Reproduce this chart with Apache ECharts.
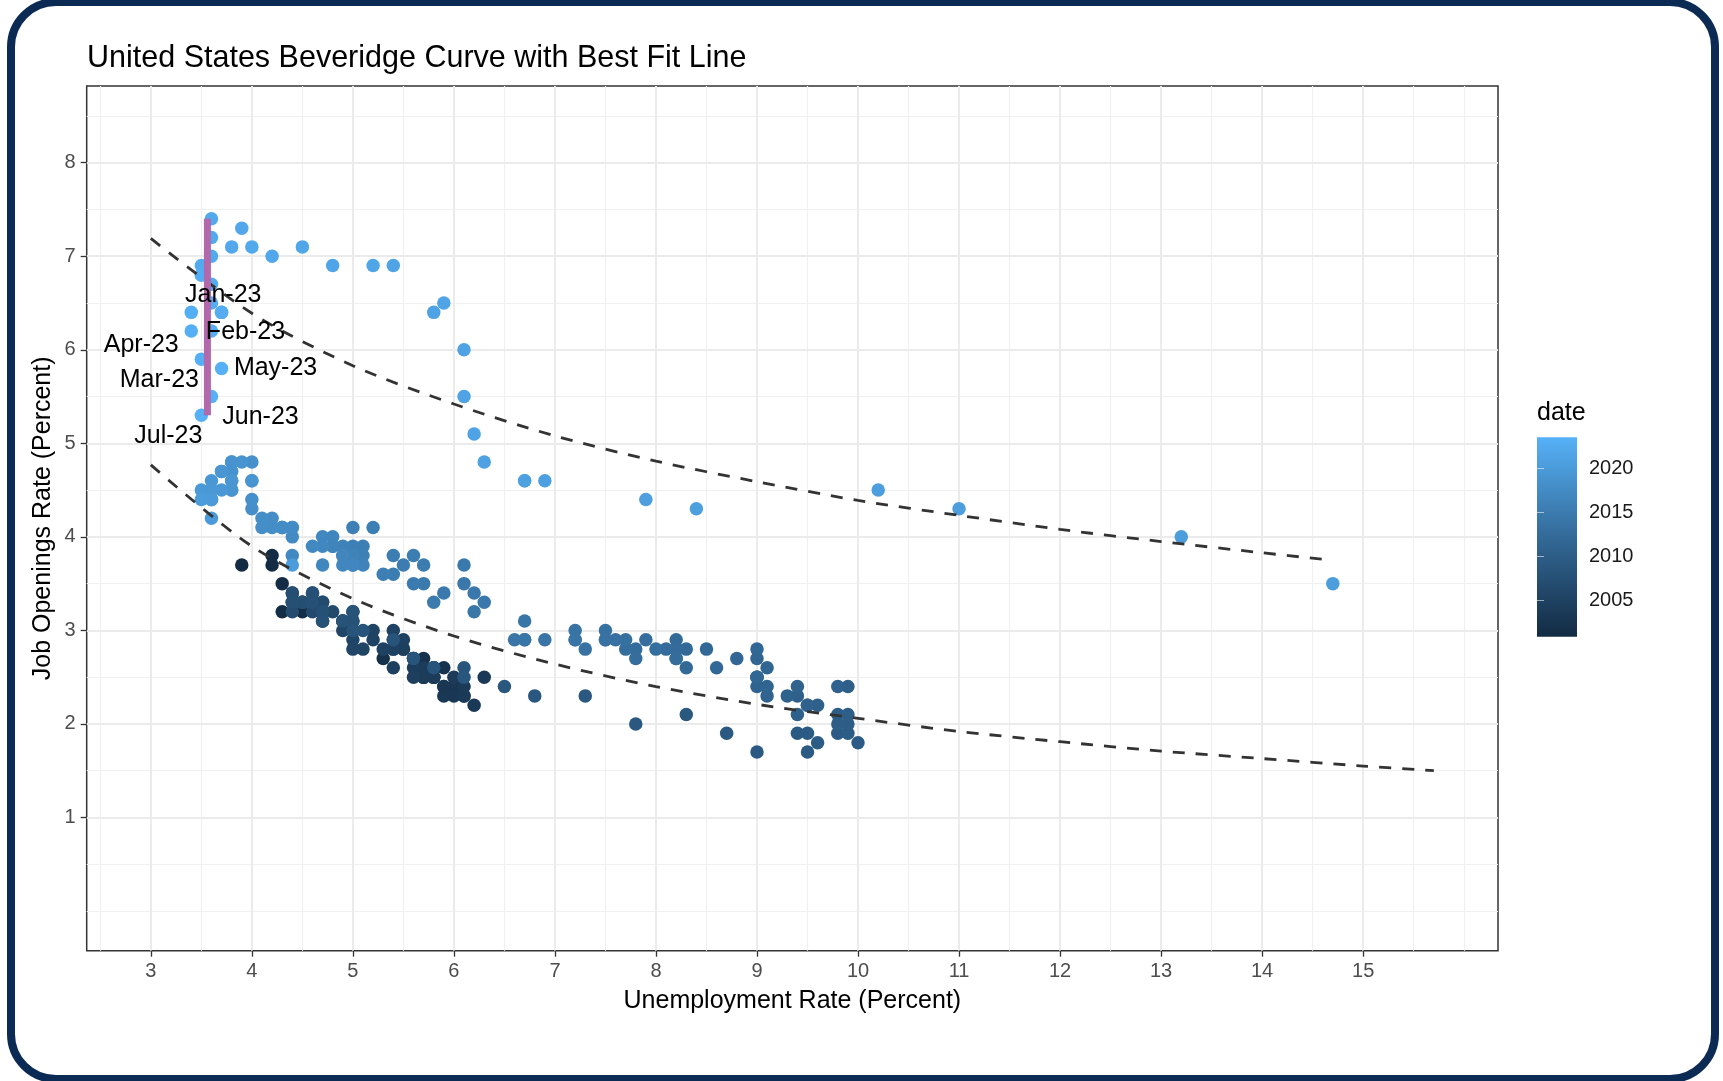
<!DOCTYPE html>
<html>
<head>
<meta charset="utf-8">
<script src="https://cdn.jsdelivr.net/npm/echarts@6/dist/echarts.min.js"></script>
<style>
html,body{margin:0;padding:0;background:#fff;}
#c{width:1723px;height:1081px;}
</style>
</head>
<body>
<div id="c"></div>
<script>
// ---------------- DATA ----------------
const firstMonth = '2000-12';   // monthly observations start here

// Unemployment rate (percent), monthly
const unemployment = [
  3.9,                                                     // 2000-12
  4.2,4.2,4.3,4.4,4.3,4.5,4.6,4.9,5.0,5.3,5.5,5.7,         // 2001
  5.7,5.7,5.7,5.9,5.8,5.8,5.8,5.7,5.7,5.7,5.9,6.0,         // 2002
  5.8,5.9,5.9,6.0,6.1,6.3,6.2,6.1,6.1,6.0,5.8,5.7,         // 2003
  5.7,5.6,5.8,5.6,5.6,5.6,5.5,5.4,5.4,5.5,5.4,5.4,         // 2004
  5.3,5.4,5.2,5.2,5.1,5.0,5.0,4.9,5.0,5.0,5.0,4.9,         // 2005
  4.7,4.8,4.7,4.7,4.6,4.6,4.7,4.7,4.5,4.4,4.5,4.4,         // 2006
  4.6,4.5,4.4,4.5,4.4,4.6,4.7,4.6,4.7,4.7,4.7,5.0,         // 2007
  5.0,4.9,5.1,5.0,5.4,5.6,5.8,6.1,6.1,6.5,6.8,7.3,         // 2008
  7.8,8.3,8.7,9.0,9.4,9.5,9.5,9.6,9.8,10.0,9.9,9.9,        // 2009
  9.8,9.8,9.9,9.9,9.6,9.4,9.4,9.5,9.5,9.4,9.8,9.3,         // 2010
  9.1,9.0,9.0,9.1,9.0,9.1,9.0,9.0,9.0,8.8,8.6,8.5,         // 2011
  8.3,8.3,8.2,8.2,8.2,8.2,8.2,8.1,7.8,7.8,7.7,7.9,         // 2012
  8.0,7.7,7.5,7.6,7.5,7.5,7.3,7.2,7.2,7.2,6.9,6.7,         // 2013
  6.6,6.7,6.7,6.2,6.3,6.1,6.2,6.1,5.9,5.7,5.8,5.6,         // 2014
  5.7,5.5,5.4,5.4,5.6,5.3,5.2,5.1,5.0,5.0,5.1,5.0,         // 2015
  4.8,4.9,5.0,5.1,4.8,4.9,4.8,4.9,5.0,4.9,4.7,4.7,         // 2016
  4.7,4.6,4.4,4.4,4.4,4.3,4.3,4.4,4.3,4.2,4.2,4.1,         // 2017
  4.0,4.1,4.0,4.0,3.8,4.0,3.8,3.8,3.7,3.8,3.8,3.9,         // 2018
  4.0,3.8,3.8,3.7,3.6,3.6,3.7,3.6,3.5,3.6,3.6,3.6,         // 2019
  3.6,3.5,4.4,14.7,13.2,11.0,10.2,8.4,7.9,6.9,6.7,6.7,     // 2020
  6.3,6.2,6.1,6.1,5.8,5.9,5.4,5.2,4.8,4.5,4.2,3.9,         // 2021
  4.0,3.8,3.6,3.6,3.6,3.6,3.5,3.7,3.5,3.7,3.6,3.5,         // 2022
  3.4,3.6,3.5,3.4,3.7,3.6,3.5                              // 2023
];

// Job openings rate (percent), monthly
const jobOpenings = [
  3.7,                                                     // 2000-12
  3.8,3.7,3.5,3.4,3.2,3.2,3.3,3.1,3.0,2.7,2.8,2.7,         // 2001
  2.6,2.6,2.5,2.6,2.5,2.6,2.5,2.5,2.6,2.5,2.4,2.4,         // 2002
  2.5,2.4,2.3,2.3,2.3,2.5,2.2,2.3,2.4,2.5,2.5,2.5,         // 2003
  2.6,2.6,2.6,2.7,2.5,2.7,2.8,2.6,2.8,2.9,2.9,2.8,         // 2004
  2.8,3.0,3.0,2.9,2.8,2.9,2.8,3.0,3.1,3.2,3.0,3.1,         // 2005
  3.1,3.2,3.3,3.2,3.3,3.2,3.1,3.3,3.3,3.2,3.3,3.3,         // 2006
  3.4,3.3,3.4,3.3,3.3,3.4,3.2,3.3,3.2,3.2,3.1,3.1,         // 2007
  3.2,3.1,3.0,3.0,2.9,2.7,2.6,2.6,2.5,2.4,2.3,2.3,         // 2008
  2.0,2.1,1.9,1.7,1.9,1.7,1.9,1.8,1.9,1.8,1.9,2.0,         // 2009
  2.0,2.1,2.1,2.4,2.2,2.1,2.3,2.2,2.2,2.4,2.4,2.3,         // 2010
  2.3,2.4,2.5,2.4,2.5,2.6,2.7,2.5,2.8,2.7,2.6,2.8,         // 2011
  2.8,2.6,2.9,2.8,2.7,2.8,2.7,2.8,2.8,2.7,2.8,2.9,         // 2012
  2.8,2.9,2.9,2.9,3.0,2.9,2.8,2.9,3.0,2.9,2.9,2.9,         // 2013
  2.9,2.9,3.1,3.2,3.3,3.5,3.4,3.7,3.4,3.5,3.3,3.5,         // 2014
  3.7,3.7,3.6,3.8,3.8,3.6,4.1,3.9,4.1,3.9,3.8,3.7,         // 2015
  3.9,3.9,3.8,3.7,3.9,3.8,4.0,3.7,3.7,3.8,3.7,3.9,         // 2016
  4.0,3.9,3.8,4.0,4.1,4.1,4.1,4.1,4.1,4.1,4.2,4.1,         // 2017
  4.3,4.2,4.4,4.6,4.6,4.8,4.7,4.8,4.7,4.8,4.5,4.8,         // 2018
  4.6,4.5,4.6,4.7,4.6,4.5,4.5,4.5,4.5,4.4,4.4,4.4,         // 2019
  4.2,4.4,3.7,3.5,4.0,4.3,4.5,4.3,4.4,4.6,4.6,4.6,         // 2020
  4.8,5.1,5.5,6.0,6.4,6.5,6.9,6.9,6.9,7.1,7.0,7.3,         // 2021
  7.1,7.1,7.4,7.2,7.0,6.7,6.9,6.4,6.8,6.4,6.5,6.8,         // 2022
  6.4,6.2,5.9,6.2,5.8,5.5,5.3                              // 2023
];

// Best-fit curves
const upperFitX = [3, 4, 5, 6, 7, 8, 9, 10, 11, 12, 13, 14, 14.6];
const upperFitY = [7.19, 6.39, 5.83, 5.42, 5.08, 4.81, 4.59, 4.39, 4.23, 4.08, 3.95, 3.83, 3.76];
const lowerFitX = [3, 4, 5, 6, 7, 8, 9, 10, 11, 12, 13, 14, 15, 15.7];
const lowerFitY = [4.77, 3.90, 3.34, 2.94, 2.64, 2.40, 2.21, 2.06, 1.92, 1.81, 1.71, 1.63, 1.55, 1.50];

// Purple vertical segment (2022-23 range)
const segmentX = 3.56;
const segmentY = [5.3, 7.4];

// Labelled months
const labelledMonths = ['2023-01','2023-02','2023-03','2023-04','2023-05','2023-06','2023-07'];

// Axis ticks
const xTicks = [3,4,5,6,7,8,9,10,11,12,13,14,15];
const xMinorGrid = [2.5,3.5,4.5,5.5,6.5,7.5,8.5,9.5,10.5,11.5,12.5,13.5,14.5,15.5,16];
const yTicks = [1,2,3,4,5,6,7,8];
const yMinorGrid = [0,0.5,1.5,2.5,3.5,4.5,5.5,6.5,7.5,8.5];
const legendTicks = [2005, 2010, 2015, 2020];

// ---------------- STYLE (not data) ----------------
const labelOffsets = [[32,-17],[34,1],[-42,21],[-50,14],[54,0],[49,21],[-33,21]];
const FONT = "'Liberation Sans', Arial, Helvetica, sans-serif";
const monthNames = ['Jan','Feb','Mar','Apr','May','Jun','Jul','Aug','Sep','Oct','Nov','Dec'];
const DARK = '#132B43', MID = '#336A98', LIGHT = '#56B1F7';

// ---------------- BUILD ----------------
const [fy, fm] = firstMonth.split('-').map(Number);
const monthKeys = unemployment.map((_, i) => {
  const t = (fy * 12 + (fm - 1)) + i;
  const y = Math.floor(t / 12), m = t % 12 + 1;
  return y + '-' + String(m).padStart(2, '0');
});
const decimalYear = k => { const [y, m] = k.split('-').map(Number); return y + (m - 1) / 12; };
const points = unemployment.map((u, i) => [u, jobOpenings[i], decimalYear(monthKeys[i])]);
const dateMin = decimalYear(monthKeys[0]);
const dateMax = decimalYear(monthKeys[monthKeys.length - 1]);

const labelData = labelledMonths.map((k) => {
  const idx = monthKeys.indexOf(k);
  const [y, m] = k.split('-').map(Number);
  return {
    value: [unemployment[idx], jobOpenings[idx]],
    name: monthNames[m - 1] + '-' + String(y).slice(2)
  };
});

const xMin = 2.365, xMax = 16.335, yMin = -0.424, yMax = 8.82;

const chart = echarts.init(document.getElementById('c'), null, { renderer: 'canvas' });

const gridMain = { left: 86.7, top: 86, width: 1411.3, height: 864.7 };

const option = {
  animation: false,
  backgroundColor: '#ffffff',
  textStyle: { fontFamily: FONT },
  title: [
    { text: 'United States Beveridge Curve with Best Fit Line', left: 87, top: 44, padding: 0,
      textStyle: { fontSize: 30.5, fontWeight: 'normal', color: '#000', fontFamily: FONT, lineHeight: 30 } },
    { text: 'date', left: 1537, top: 401, padding: 0,
      textStyle: { fontSize: 25, fontWeight: 'normal', color: '#000', fontFamily: FONT, lineHeight: 25 } }
  ],
  grid: [
    { left: gridMain.left, top: gridMain.top, width: gridMain.width, height: gridMain.height,
      show: true, borderColor: '#333333', borderWidth: 1.5, backgroundColor: '#fff', containLabel: false },
    { left: 1537, top: 437.3, width: 40, height: 199.4, show: false, containLabel: false }
  ],
  visualMap: {
    show: false, type: 'continuous', seriesIndex: 0, dimension: 2,
    min: dateMin, max: dateMax, inRange: { color: [DARK, MID, LIGHT] }
  },
  xAxis: [
    { type: 'value', gridIndex: 0, min: xMin, max: xMax, z: 1,
      name: 'Unemployment Rate (Percent)', nameLocation: 'middle', nameGap: 38,
      nameTextStyle: { fontSize: 25, color: '#000', fontFamily: FONT, lineHeight: 25 },
      axisLine: { show: false, onZero: false },
      axisTick: { show: true, length: 6, customValues: xTicks, lineStyle: { color: '#333', width: 1.3 } },
      axisLabel: { show: true, customValues: xTicks, margin: 11, fontSize: 20, color: '#4D4D4D', fontFamily: FONT },
      splitLine: { show: true, lineStyle: { color: '#EBEBEB', width: 2 } } },
    { type: 'value', gridIndex: 0, min: xMin, max: xMax, position: 'top',
      axisLine: { show: false, onZero: false },
      axisTick: { show: false, customValues: xMinorGrid },
      axisLabel: { show: false },
      splitLine: { show: true, lineStyle: { color: '#F0F0F0', width: 1.2 } } },
    { type: 'value', gridIndex: 1, min: 0, max: 1, show: false }
  ],
  yAxis: [
    { type: 'value', gridIndex: 0, min: yMin, max: yMax, z: 1,
      name: 'Job Openings Rate (Percent)', nameLocation: 'middle', nameGap: 31, nameMoveOverlap: false,
      nameTextStyle: { fontSize: 25, color: '#000', fontFamily: FONT, lineHeight: 25 },
      axisLine: { show: false, onZero: false },
      axisTick: { show: true, length: 6, customValues: yTicks, lineStyle: { color: '#333', width: 1.3 } },
      axisLabel: { show: true, customValues: yTicks, margin: 11, fontSize: 20, color: '#4D4D4D', fontFamily: FONT },
      splitLine: { show: true, lineStyle: { color: '#EBEBEB', width: 2 } } },
    { type: 'value', gridIndex: 0, min: yMin, max: yMax, position: 'right',
      axisLine: { show: false, onZero: false },
      axisTick: { show: false, customValues: yMinorGrid },
      axisLabel: { show: false },
      splitLine: { show: true, lineStyle: { color: '#F0F0F0', width: 1.2 } } },
    { type: 'value', gridIndex: 1, min: dateMin, max: dateMax, position: 'right', z: 10,
      axisLine: { show: false },
      axisTick: { show: true, inside: true, length: 7, customValues: legendTicks,
                  lineStyle: { color: 'rgba(255,255,255,0.55)', width: 1 } },
      axisLabel: { show: true, customValues: legendTicks, margin: 12, fontSize: 20, color: '#1A1A1A',
                   fontFamily: FONT, formatter: v => String(Math.round(v)) },
      splitLine: { show: false } },
    { type: 'value', gridIndex: 1, min: dateMin, max: dateMax, position: 'left', z: 10,
      axisLine: { show: false },
      axisTick: { show: true, inside: true, length: 7, customValues: legendTicks,
                  lineStyle: { color: 'rgba(255,255,255,0.55)', width: 1 } },
      axisLabel: { show: false },
      splitLine: { show: false } }
  ],
  graphic: [
    { type: 'rect', z: 100, silent: true,
      shape: { x: 11, y: 2, width: 1704, height: 1077, r: 45 },
      style: { fill: 'none', stroke: '#0B2B55', lineWidth: 8 } }
  ],
  series: [
    { name: 'points', type: 'scatter', xAxisIndex: 0, yAxisIndex: 0, z: 2,
      symbol: 'circle', symbolSize: 13.5, data: points, itemStyle: { opacity: 1 } },
    { name: 'upperFit', type: 'line', xAxisIndex: 0, yAxisIndex: 0, z: 3,
      data: upperFitX.map((x, i) => [x, upperFitY[i]]), smooth: 0.3, showSymbol: false, symbol: 'none',
      lineStyle: { color: '#333333', width: 2.8, type: [12, 11] } },
    { name: 'lowerFit', type: 'line', xAxisIndex: 0, yAxisIndex: 0, z: 3,
      data: lowerFitX.map((x, i) => [x, lowerFitY[i]]), smooth: 0.3, showSymbol: false, symbol: 'none',
      lineStyle: { color: '#333333', width: 2.8, type: [12, 11] } },
    { name: 'segment', type: 'line', xAxisIndex: 0, yAxisIndex: 0, z: 4,
      data: segmentY.map(y => [segmentX, y]), showSymbol: false, symbol: 'none',
      lineStyle: { color: '#B169AB', width: 7, cap: 'butt' } },
    { name: 'labels', type: 'scatter', xAxisIndex: 0, yAxisIndex: 0, z: 5,
      symbol: 'circle', symbolSize: 1, data: labelData,
      itemStyle: { color: 'rgba(255,255,255,0)', opacity: 1 },
      labelLayout: (params) => ({
        dx: labelOffsets[params.dataIndex][0],
        dy: labelOffsets[params.dataIndex][1],
        hideOverlap: false
      }),
      label: { show: true, position: 'inside', formatter: p => p.name, fontSize: 25, color: '#000000',
               opacity: 1, textBorderWidth: 0, fontFamily: FONT, align: 'center', verticalAlign: 'middle' } },
    { name: 'colorbar', type: 'custom', xAxisIndex: 2, yAxisIndex: 2, z: 2,
      data: [[0.5, dateMin, dateMax]], encode: { x: 0, y: [1, 2] },
      renderItem: (params, api) => {
        const top = api.coord([0, api.value(2)]);
        const bot = api.coord([1, api.value(1)]);
        return { type: 'rect',
          shape: { x: top[0], y: top[1], width: bot[0] - top[0], height: bot[1] - top[1] },
          style: { fill: new echarts.graphic.LinearGradient(0, 0, 0, 1, [
            { offset: 0, color: LIGHT }, { offset: 0.5, color: MID }, { offset: 1, color: DARK } ]) } };
      } }
  ]
};
chart.setOption(option);
</script>
</body>
</html>
